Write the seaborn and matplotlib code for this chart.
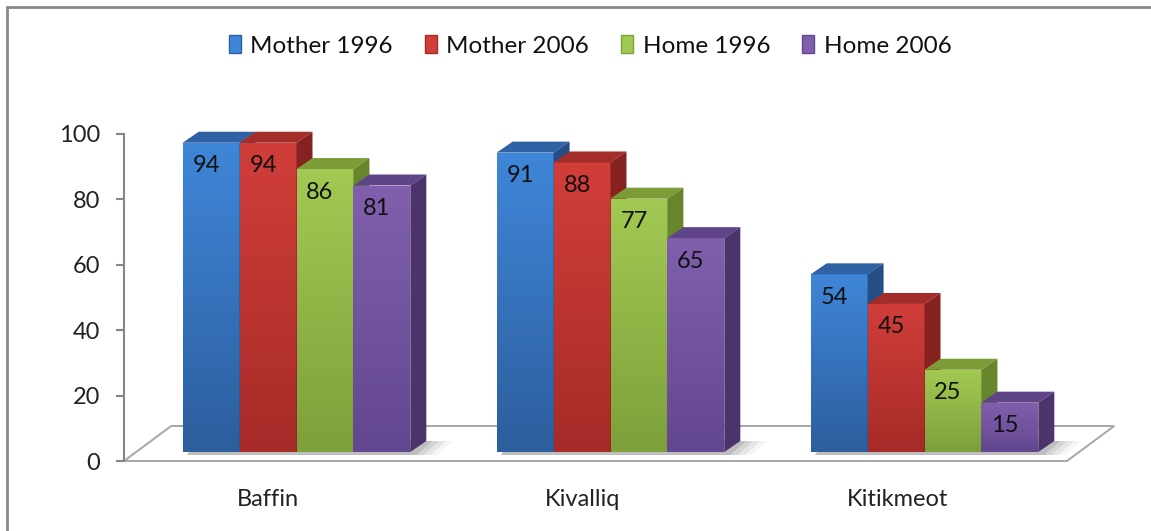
import numpy as np
import pandas as pd
import matplotlib
matplotlib.use("Agg")
import matplotlib.pyplot as plt
import seaborn as sns
from matplotlib.patches import Polygon, Rectangle, Patch
from matplotlib.transforms import IdentityTransform
from matplotlib.colors import LinearSegmentedColormap

# data
regions = ["Baffin", "Kivalliq", "Kitikmeot"]
series = ["Mother 1996", "Mother 2006", "Home 1996", "Home 2006"]
mother_1996 = [94, 91, 54]
mother_2006 = [94, 88, 45]
home_1996 = [86, 77, 25]
home_2006 = [81, 65, 15]
y_ticks = [0, 20, 40, 60, 80, 100]

# colours: front light, front dark, top, side
colors = {
    "Mother 1996": ("#3f86d8", "#2d5e9e", "#2f62a5", "#244e85"),
    "Mother 2006": ("#d13e3a", "#a62b28", "#a42c29", "#862320"),
    "Home 1996": ("#a2c953", "#7ea03a", "#7c9c37", "#67852b"),
    "Home 2006": ("#8060ad", "#634690", "#604488", "#4b346c"),
}

df = pd.DataFrame({
    "region": regions * 4,
    "series": [s for s in series for _ in regions],
    "value": mother_1996 + mother_2006 + home_1996 + home_2006,
})

sns.set_style("white")
plt.rcParams["font.family"] = ["Lato", "DejaVu Sans"]

W, H = 1151, 531
fig = plt.figure(figsize=(W / 100, H / 100), dpi=100)


def px_box(left, right, top, bottom):
    return [left / W, 1 - bottom / H, (right - left) / W, (bottom - top) / H]


# axis with ticks and floor (back wall scale)
ax_t = fig.add_axes(px_box(124, 1067, 134, 461))
ax_t.set_xlim(-0.458, 2.54)
ax_t.set_ylim(0, 100)
ax_t.patch.set_alpha(0)
for s in ["top", "right", "bottom"]:
    ax_t.spines[s].set_visible(False)
ax_t.spines["left"].set_color("#868686")
ax_t.spines["left"].set_linewidth(1.5)
ax_t.set_yticks(y_ticks)
ax_t.set_yticklabels([str(v) for v in y_ticks], fontsize=17, color="#222222")
ax_t.tick_params(axis="y", length=6, width=1.5, color="#868686", pad=11, left=True)
ax_t.set_xticks(range(len(regions)))
ax_t.set_xticklabels(regions, fontsize=17, color="#222222")
ax_t.tick_params(axis="x", length=0, pad=20)

floor = Polygon([(0, 0), (1, 0), (1.05, 0.107), (0.05, 0.107)], closed=True,
                transform=ax_t.transAxes, facecolor="white", edgecolor="#a6a6a6",
                lw=1.4, clip_on=False, zorder=1)
ax_t.add_patch(floor)

# bars axis (front faces)
ax_b = fig.add_axes(px_box(139.5, 1081.5, 123, 452))
ax_b.patch.set_alpha(0)
ax_b.set_zorder(ax_t.get_zorder() + 1)
sns.barplot(data=df, x="region", y="value", hue="series", hue_order=series,
            palette=[colors[s][0] for s in series], width=0.725, saturation=1,
            legend=False, ax=ax_b)
ax_b.set_xlim(-0.5, 2.5)
ax_b.set_ylim(0, 100)

dx, dy = 16, 11
grad = np.linspace(0, 1, 64).reshape(-1, 1)

# soft shadow on the floor behind each group
for ci in range(len(regions)):
    first = ax_b.containers[0][ci]
    last = ax_b.containers[-1][ci]
    gx0, gy0 = ax_b.transData.transform((first.get_x(), 0))
    gx1, _ = ax_b.transData.transform((last.get_x() + last.get_width(), 0))
    for i, a in enumerate([0.10, 0.08, 0.06, 0.04]):
        off = 6 + i * 7
        sh = Polygon([(gx0 + 4, gy0 - 3), (gx1 + off, gy0 - 3),
                      (gx1 + off + dx, gy0 + dy), (gx0 + dx, gy0 + dy)],
                     closed=True, transform=IdentityTransform(), facecolor="black",
                     alpha=a, edgecolor="none", clip_on=False, zorder=1)
        ax_b.add_patch(sh)

for hi, cont in enumerate(ax_b.containers):
    name = series[hi]
    front_l, front_d, top_c, side_c = colors[name]
    cmap = LinearSegmentedColormap.from_list(name, [front_d, front_l])
    for ci, bar in enumerate(cont):
        k = ci * 4 + hi
        z = 2 + 0.1 * k
        bar.set_zorder(z)
        bar.set_edgecolor("none")
        x0 = bar.get_x()
        x1 = x0 + bar.get_width()
        h = bar.get_height()
        im = ax_b.imshow(grad, extent=(x0, x1, 0, h), origin="lower", aspect="auto",
                         cmap=cmap, zorder=z + 0.001)
        im.set_clip_path(bar)
        px0, py0 = ax_b.transData.transform((x0, 0))
        px1, py1 = ax_b.transData.transform((x1, h))
        top = Polygon([(px0, py1), (px1, py1), (px1 + dx, py1 + dy), (px0 + dx, py1 + dy)],
                      closed=True, transform=IdentityTransform(), facecolor=top_c,
                      edgecolor="none", clip_on=False, zorder=z + 0.01)
        side = Polygon([(px1, py0), (px1, py1), (px1 + dx, py1 + dy), (px1 + dx, py0 + dy)],
                       closed=True, transform=IdentityTransform(), facecolor=side_c,
                       edgecolor="none", clip_on=False, zorder=z + 0.02)
        ax_b.add_patch(top)
        ax_b.add_patch(side)
        ax_b.annotate(str(int(h)), ((x0 + x1) / 2, h), xytext=(-5, -23),
                      textcoords="offset pixels", ha="center", va="center",
                      fontsize=17, color="#111111", zorder=10)

ax_b.set_xlim(-0.5, 2.5)
ax_b.set_ylim(0, 100)
ax_b.axis("off")

# legend
handles = [Patch(facecolor=colors[s][0], edgecolor=colors[s][1]) for s in series]
fig.legend(handles, series, loc="center", bbox_to_anchor=(590 / W, 1 - 46 / H),
           ncol=4, frameon=False, fontsize=17.5, handlelength=0.5, handleheight=0.7,
           handletextpad=0.4, columnspacing=1.3, labelcolor="#111111")

# chart border
fig.add_artist(Rectangle((7, -20), 1300, H - 7 + 20, transform=IdentityTransform(),
                         facecolor="none", edgecolor="#888888", lw=2))

fig.savefig("out.png", dpi=100)
